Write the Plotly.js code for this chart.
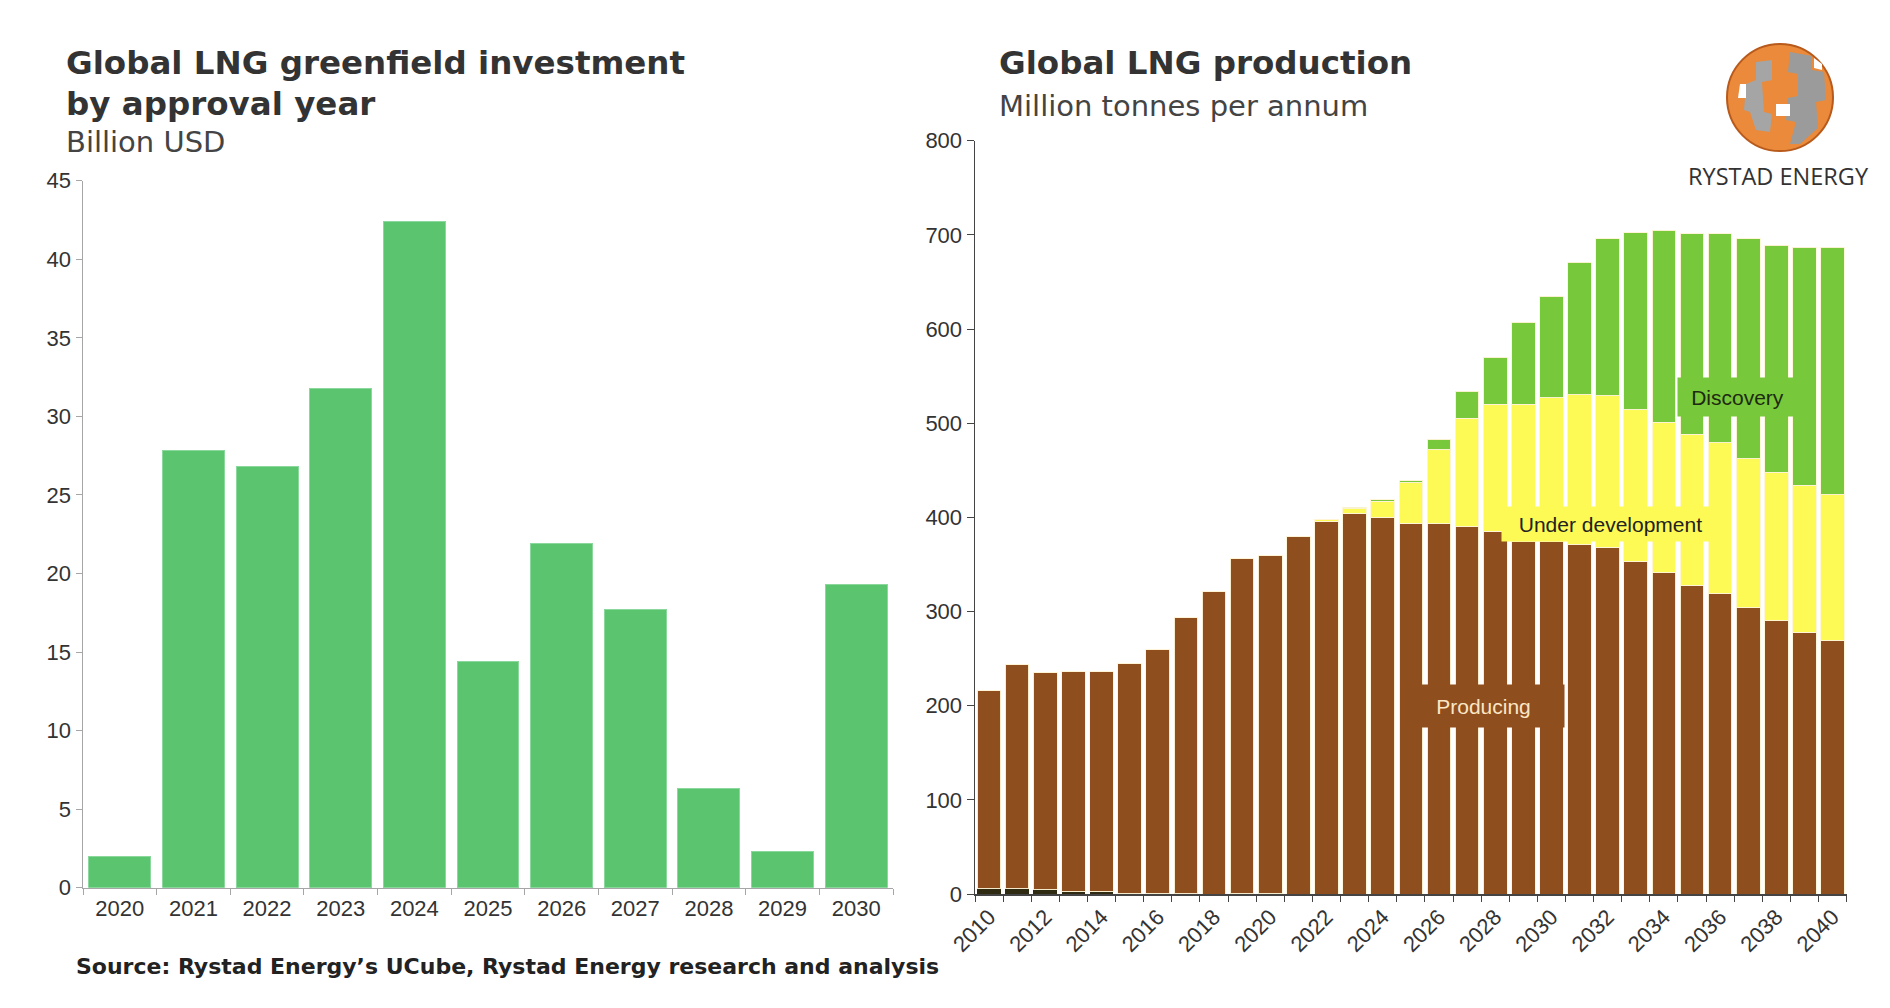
<!DOCTYPE html>
<html><head><meta charset="utf-8">
<script src="https://cdn.plot.ly/plotly-3.0.1.min.js"></script>
<style>html,body{margin:0;padding:0;background:#fff;}#chart{width:1890px;height:1008px;}</style>
</head><body><div id="chart"></div>
<script>
// ---- Left chart data ----
const approvalYears = ['2020','2021','2022','2023','2024','2025','2026','2027','2028','2029','2030'];
const investmentBnUSD = [2.0, 27.8, 26.8, 31.8, 42.4, 14.4, 21.9, 17.7, 6.3, 2.3, 19.3];
const leftYTicks = [0,5,10,15,20,25,30,35,40,45];

// ---- Right chart data ----
const prodYears = [2010,2011,2012,2013,2014,2015,2016,2017,2018,2019,2020,2021,2022,2023,2024,2025,2026,2027,2028,2029,2030,2031,2032,2033,2034,2035,2036,2037,2038,2039,2040];
const otherVol = [6,6,5,2.5,2.5,1,1,1,0,1,1,0,0,0,0,0,0,0,0,0,0,0,0,0,0,0,0,0,0,0,0];
const producing = [210,238,230,234,234,244,259,293,321,355,359,380,396,404,400,394,393,390,385,374,374,371,368,353,341,328,319,304,290,278,269];
const underDevelopment = [0,0,0,0,0,0,0,0,0,0,0,0,2,5,17,43,79,115,135,146,153,159,161,161,160,160,160,158,158,156,155];
const discovery = [0,0,0,0,0,0,0,0,0,0,0,0,0,1.5,1.5,2,11,29,50,87,108,141,167,188,204,213,222,234,241,253,263];
const rightYTicks = [0,100,200,300,400,500,600,700,800];
const rightXLabels = [2010,2012,2014,2016,2018,2020,2022,2024,2026,2028,2030,2032,2034,2036,2038,2040];
const rightXBoundaries = prodYears.map(y => y - 0.5).concat([2040.5]);

const W = 1890, H = 1008;
const X = px => px / W;
const Y = py => 1 - py / H;

const sepLine = {color: 'rgba(255,244,214,0.95)', width: 1};

const traces = [
  {type:'bar', x: approvalYears, y: investmentBnUSD, xaxis:'x', yaxis:'y',
   marker:{color:'#5ac46f', line:{color:'#8ad89c', width:1}}, hoverinfo:'x+y'},
  {type:'bar', name:'Other', x: prodYears, y: otherVol, xaxis:'x2', yaxis:'y2',
   marker:{color:'#2e2b12', line:{width:0}}},
  {type:'bar', name:'Producing', x: prodYears, y: producing, xaxis:'x2', yaxis:'y2',
   marker:{color:'#8f4e1d', line:sepLine}},
  {type:'bar', name:'Under development', x: prodYears, y: underDevelopment, xaxis:'x2', yaxis:'y2',
   marker:{color:'#fdfa55', line:sepLine}},
  {type:'bar', name:'Discovery', x: prodYears, y: discovery, xaxis:'x2', yaxis:'y2',
   marker:{color:'#78c83b', line:sepLine}},
  {type:'scatter', x:[2010], y:[0], xaxis:'x3', yaxis:'y2', mode:'markers',
   marker:{opacity:0}, hoverinfo:'skip', showlegend:false}
];

const tickFont = {family:'Liberation Sans, Arial, sans-serif', size:22, color:'#333'};
const titleFont = {family:'DejaVu Sans, Verdana, sans-serif', size:32.5, color:'#333'};
const subFont = {family:'DejaVu Sans, Verdana, sans-serif', size:29, color:'#444'};

const layout = {
  width: W, height: H,
  margin:{l:0,r:0,t:0,b:0},
  paper_bgcolor:'#fff', plot_bgcolor:'rgba(0,0,0,0)',
  showlegend:false,
  barmode:'stack',
  bargap:0.16,
  xaxis:{domain:[X(83), X(893)], type:'category', tickson:'boundaries', ticks:'outside', ticklen:6,
         tickcolor:'#a6a6a6', showline:true, linecolor:'#a6a6a6', linewidth:1.5, showgrid:false,
         tickfont:tickFont, zeroline:false, fixedrange:true},
  yaxis:{domain:[Y(887.7), Y(180.7)], range:[0,45], tickvals:leftYTicks, ticks:'outside', ticklen:6,
         tickcolor:'#a6a6a6', showline:true, linecolor:'#a6a6a6', linewidth:1.5, showgrid:false,
         zeroline:false, tickfont:tickFont, anchor:'x'},
  xaxis2:{domain:[X(975), X(1846.7)], range:[2009.5, 2040.5], tickvals:rightXLabels, tickangle:-45,
          ticks:'', showline:true, linecolor:'#444', linewidth:1.5, showgrid:false, zeroline:false,
          tickfont:tickFont, anchor:'y2'},
  xaxis3:{domain:[X(975), X(1846.7)], range:[2009.5, 2040.5], overlaying:'x2', tickvals:rightXBoundaries,
          ticks:'outside', ticklen:7, tickcolor:'#444', showticklabels:false, showline:false,
          showgrid:false, zeroline:false, anchor:'y2'},
  yaxis2:{domain:[Y(894), Y(140.7)], range:[0,800], tickvals:rightYTicks, ticks:'outside', ticklen:7,
          tickcolor:'#444', showline:true, linecolor:'#444', linewidth:1.5, showgrid:false,
          zeroline:false, tickfont:tickFont, anchor:'x2'},
  annotations:[
    {xref:'paper', yref:'paper', x:X(64), y:Y(63), xanchor:'left', yanchor:'middle', showarrow:false,
     text:'<b>Global LNG greenfield investment</b>', font:titleFont},
    {xref:'paper', yref:'paper', x:X(64), y:Y(104), xanchor:'left', yanchor:'middle', showarrow:false,
     text:'<b>by approval year</b>', font:titleFont},
    {xref:'paper', yref:'paper', x:X(64), y:Y(142), xanchor:'left', yanchor:'middle', showarrow:false,
     text:'Billion USD', font:subFont},
    {xref:'paper', yref:'paper', x:X(997), y:Y(63), xanchor:'left', yanchor:'middle', showarrow:false,
     text:'<b>Global LNG production</b>', font:titleFont},
    {xref:'paper', yref:'paper', x:X(997), y:Y(106), xanchor:'left', yanchor:'middle', showarrow:false,
     text:'Million tonnes per annum', font:subFont},
    {xref:'paper', yref:'paper', x:X(74), y:Y(966), xanchor:'left', yanchor:'middle', showarrow:false,
     text:'<b>Source: Rystad Energy\u2019s UCube, Rystad Energy research and analysis</b>',
     font:{family:'DejaVu Sans, Verdana, sans-serif', size:22, color:'#222'}},
    {xref:'paper', yref:'paper', x:X(1778), y:Y(176), xanchor:'center', yanchor:'middle', showarrow:false,
     text:'RYSTAD ENERGY', font:{family:'Open Sans, sans-serif', size:23.5, color:'#333'}},
    {xref:'x2', yref:'y2', x:2036.6, y:528, showarrow:false, text:'Discovery', bgcolor:'#78c83b',
     width:119, height:38, borderpad:0, font:{family:'Liberation Sans, Arial, sans-serif', size:21, color:'#1e2a10'}},
    {xref:'x2', yref:'y2', x:2032.1, y:393, showarrow:false, text:'Under development', bgcolor:'#fdfa55',
     width:217, height:34, borderpad:0, font:{family:'Liberation Sans, Arial, sans-serif', size:21, color:'#222'}},
    {xref:'x2', yref:'y2', x:2027.6, y:200, showarrow:false, text:'Producing', bgcolor:'#8f4e1d',
     width:161, height:42, borderpad:0, font:{family:'Liberation Sans, Arial, sans-serif', size:21, color:'#fbe6c6'}}
  ],
  shapes:[
    {type:'circle', xref:'paper', yref:'paper', x0:X(1727), x1:X(1833), y0:Y(151), y1:Y(44),
     fillcolor:'#ea8a3a', line:{color:'#b85a1c', width:2}},
    {type:'path', xref:'paper', yref:'paper', fillcolor:'#9b9b9b', line:{width:0},
     path:`M ${X(1790)} ${Y(52)} L ${X(1812)} ${Y(56)} L ${X(1812)} ${Y(70)} L ${X(1824)} ${Y(72)} L ${X(1826)} ${Y(100)} L ${X(1816)} ${Y(102)} L ${X(1818)} ${Y(128)} L ${X(1800)} ${Y(144)} L ${X(1790)} ${Y(144)} L ${X(1796)} ${Y(122)} L ${X(1786)} ${Y(120)} L ${X(1788)} ${Y(98)} L ${X(1798)} ${Y(96)} L ${X(1798)} ${Y(74)} L ${X(1788)} ${Y(72)} Z`},
    {type:'path', xref:'paper', yref:'paper', fillcolor:'#a5a5a5', line:{width:0},
     path:`M ${X(1756)} ${Y(62)} L ${X(1772)} ${Y(60)} L ${X(1772)} ${Y(80)} L ${X(1762)} ${Y(82)} L ${X(1764)} ${Y(112)} L ${X(1772)} ${Y(114)} L ${X(1770)} ${Y(132)} L ${X(1756)} ${Y(130)} L ${X(1750)} ${Y(112)} L ${X(1744)} ${Y(110)} L ${X(1746)} ${Y(84)} L ${X(1756)} ${Y(80)} Z`},
    {type:'path', xref:'paper', yref:'paper', fillcolor:'#ffffff', line:{width:0},
     path:`M ${X(1776)} ${Y(104)} L ${X(1790)} ${Y(104)} L ${X(1790)} ${Y(116)} L ${X(1776)} ${Y(116)} Z`},
    {type:'path', xref:'paper', yref:'paper', fillcolor:'#ffffff', line:{width:0},
     path:`M ${X(1814)} ${Y(58)} L ${X(1822)} ${Y(64)} L ${X(1822)} ${Y(70)} L ${X(1814)} ${Y(68)} Z`},
    {type:'path', xref:'paper', yref:'paper', fillcolor:'#ffffff', line:{width:0},
     path:`M ${X(1740)} ${Y(84)} L ${X(1746)} ${Y(84)} L ${X(1746)} ${Y(98)} L ${X(1738)} ${Y(98)} Z`}
  ]
};

Plotly.newPlot('chart', traces, layout, {displayModeBar:false, staticPlot:true});
</script></body></html>
